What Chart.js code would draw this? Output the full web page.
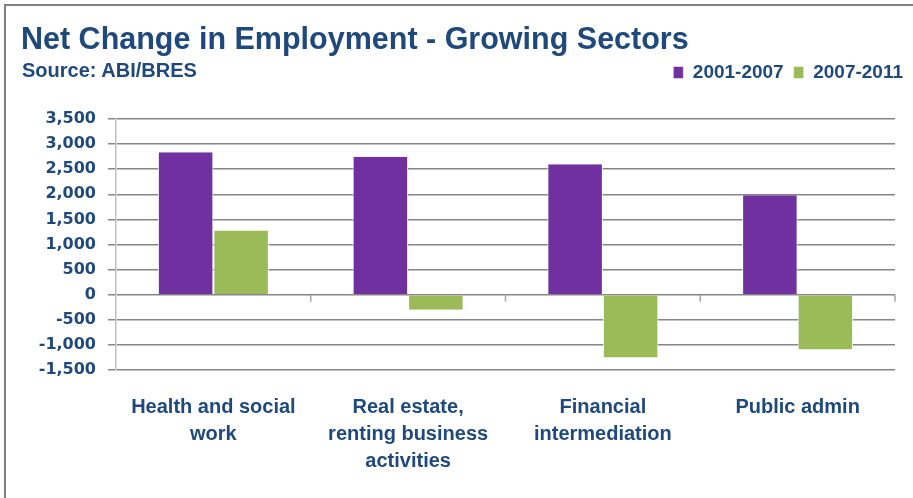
<!DOCTYPE html>
<html>
<head>
<meta charset="utf-8">
<script src="https://cdn.jsdelivr.net/npm/chart.js@4"></script>
<style>
  html, body { margin: 0; padding: 0; background: #fff; }
  #wrap { position: relative; width: 913px; height: 498px; overflow: hidden; }
  #frame { position: absolute; left: 4px; top: 4px; width: 920px; height: 500px;
           border-left: 2px solid #808080; border-top: 2px solid #808080; }
  #title { position: absolute; left: 21px; top: 21px; font: bold 30.5px "Liberation Sans", Arial, sans-serif;
           color: #1F497D; white-space: nowrap; }
  #source { position: absolute; left: 22px; top: 59px; font: bold 20px "Liberation Sans", Arial, sans-serif;
            color: #1F497D; white-space: nowrap; }
  canvas { position: absolute; left: 0; top: 0; }
</style>
</head>
<body>
<div id="wrap">
  <div id="frame"></div>
  <canvas id="empChart" width="913" height="498"></canvas>
  <div id="title">Net Change in Employment - Growing Sectors</div>
  <div id="source">Source: ABI/BRES</div>
</div>
<script>
const sectors = [
  ["Health and social", "work"],
  ["Real estate,", "renting business", "activities"],
  ["Financial", "intermediation"],
  ["Public admin"]
];
const change2001to2007 = [2840, 2750, 2600, 1980];
const change2007to2011 = [1280, -300, -1250, -1090];
const seriesNames = ["2001-2007", "2007-2011"];
const yMin = -1500;
const yMax = 3500;
const yStep = 500;

const textBlue = "#1F497D";
const gridGrey = "#868686";

// small tick marks on the zero line between categories, like the Excel axis
const zeroTicks = {
  id: "zeroTicks",
  afterDatasetsDraw(chart) {
    const x = chart.scales.x;
    const y = chart.scales.y;
    const y0 = y.getPixelForValue(0);
    const ctx = chart.ctx;
    ctx.save();
    ctx.strokeStyle = "#a6a6a6";
    ctx.lineWidth = 1.5;
    for (let i = 1; i <= sectors.length; i++) {
      let px;
      if (i < sectors.length) {
        px = (x.getPixelForValue(i - 1) + x.getPixelForValue(i)) / 2;
      } else {
        px = chart.chartArea.right;
      }
      ctx.beginPath();
      ctx.moveTo(px, y0);
      ctx.lineTo(px, y0 + 7);
      ctx.stroke();
    }
    ctx.restore();
  }
};

// legend sits on the source line, with a gap below it before the plot
const legendSpace = {
  id: "legendSpace",
  beforeInit(chart) {
    const legend = chart.legend;
    if (!legend) return;
    const fit = legend.fit;
    legend.fit = function () {
      fit.call(this);
      this.height += 27;
    };
  },
  afterLayout(chart) {
    const legend = chart.legend;
    if (!legend) return;
    legend.left += 18;
    legend.right += 18;
  }
};

function initChart() {
  const ctx = document.getElementById("empChart").getContext("2d");
  new Chart(ctx, {
    type: "bar",
    data: {
      labels: sectors,
      datasets: [{
        label: seriesNames[0],
        data: change2001to2007,
        backgroundColor: "#7030A0",
        borderColor: "#ffffff",
        borderWidth: { left: 1, right: 1, top: 0, bottom: 0 },
        borderSkipped: false
      }, {
        label: seriesNames[1],
        data: change2007to2011,
        backgroundColor: "#9BBB59",
        borderColor: "#ffffff",
        borderWidth: { left: 1, right: 1, top: 0, bottom: 0 },
        borderSkipped: false
      }]
    },
    options: {
      responsive: false,
      animation: false,
      layout: {
        padding: { top: 53, left: 0, right: 18, bottom: 7 }
      },
      datasets: {
        bar: {
          categoryPercentage: 0.57,
          barPercentage: 1.0
        }
      },
      plugins: {
        legend: {
          position: "top",
          align: "end",
          labels: {
            boxWidth: 10,
            boxHeight: 12,
            padding: 10,
            color: textBlue,
            font: { family: "Liberation Sans", size: 19, weight: "bold" }
          }
        },
        tooltip: { enabled: false }
      },
      scales: {
        x: {
          grid: { display: false },
          border: { display: false },
          ticks: {
            color: textBlue,
            padding: 16,
            maxRotation: 0,
            autoSkip: false,
            font: { family: "Liberation Sans", size: 20, weight: "bold", lineHeight: 1.35 }
          }
        },
        y: {
          min: yMin,
          max: yMax,
          afterFit(scale) { scale.width = 116; },
          grid: {
            color: gridGrey,
            lineWidth: 1.5,
            tickLength: 8
          },
          border: { color: "#c0c0c0", width: 1.5 },
          ticks: {
            stepSize: yStep,
            padding: 12,
            color: textBlue,
            font: { family: "DejaVu Sans", size: 16, weight: "bold" },
            callback: v => v.toLocaleString("en-US")
          }
        }
      }
    },
    plugins: [zeroTicks, legendSpace]
  });
}

window.onload = initChart;
</script>
</body>
</html>
